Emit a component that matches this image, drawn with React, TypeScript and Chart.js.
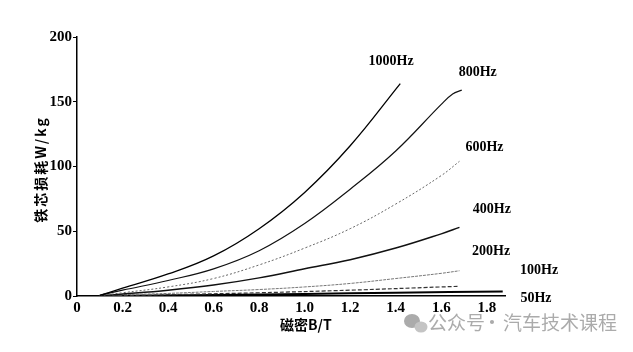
import React, { useEffect, useRef } from 'react';
import { Chart, registerables } from 'chart.js';

Chart.register(...registerables);

// Flux density B (T) and core loss (W/kg) for each frequency
const B_1000 = [0.1, 0.2, 0.4, 0.6, 0.8, 1.0, 1.2, 1.42];
const P_1000 = [0.5, 6, 17, 31, 52, 80, 116, 164];

const B_800 = [0.1, 0.2, 0.4, 0.6, 0.8, 1.0, 1.2, 1.4, 1.6, 1.65, 1.69];
const P_800 = [0.5, 4.5, 12, 21, 35, 56, 82.5, 112, 148, 156, 159];

const B_600 = [0.1, 0.2, 0.4, 0.6, 0.8, 1.0, 1.2, 1.4, 1.6, 1.68];
const P_600 = [0.3, 2.5, 7, 13.5, 24, 37, 52, 71, 93, 104];

const B_400 = [0.1, 0.2, 0.4, 0.6, 0.8, 1.0, 1.2, 1.4, 1.6, 1.68];
const P_400 = [0.2, 1.5, 4.5, 8.5, 14, 21, 28, 37, 48, 53];

const B_200 = [0.1, 0.2, 0.4, 0.6, 0.8, 1.0, 1.2, 1.4, 1.6, 1.68];
const P_200 = [0.1, 1, 2, 3.5, 5, 7, 9.7, 13.5, 17.5, 19.5];

const B_100 = [0.1, 0.4, 0.8, 1.2, 1.6, 1.68];
const P_100 = [0, 1, 2.5, 4.5, 7, 7.5];

const B_50 = [0.1, 0.6, 1.0, 1.4, 1.87];
const P_50 = [0, 0.8, 1.6, 2.6, 3.5];

// Curve labels (text, and their anchor in data units)
const LABEL_TEXT = ['1000Hz', '800Hz', '600Hz', '400Hz', '200Hz', '100Hz', '50Hz'];
const LABEL_B = [1.38, 1.76, 1.79, 1.822, 1.819, 2.03, 2.016];
const LABEL_P = [181, 173, 114.6, 67, 34.8, 19.5, -1.6];

const X_TITLE = '磁密B/T';
const Y_TITLE = '铁芯损耗W/kg';
const WATERMARK_LEFT = '公众号';
const WATERMARK_RIGHT = '汽车技术课程';

const pts = (xs: number[], ys: number[]) => xs.map((x, i) => ({ x, y: ys[i] }));

const labelPlugin = {
  id: 'labels',
  afterDraw(chart: any) {
    const { ctx, scales } = chart;
    const xs = scales.x;
    const ys = scales.y;
    ctx.save();
    ctx.fillStyle = '#000';
    ctx.font = 'bold 14px "Liberation Serif", serif';
    ctx.textAlign = 'center';
    ctx.textBaseline = 'middle';
    LABEL_TEXT.forEach((t, i) => {
      ctx.fillText(t, xs.getPixelForValue(LABEL_B[i]), ys.getPixelForValue(LABEL_P[i]));
    });

    // axis titles
    const ca = chart.chartArea;
    ctx.font = 'bold 14px "Noto Sans CJK SC", sans-serif';
    ctx.fillText(X_TITLE, xs.getPixelForValue(1.005), 325);
    ctx.save();
    ctx.translate(41, (ca.top + ca.bottom) / 2 + 3);
    ctx.rotate(-Math.PI / 2);
    ctx.font = 'bold 14px "Noto Sans CJK SC", sans-serif';
    (ctx as any).letterSpacing = '2px';
    ctx.fillText(Y_TITLE, 0, 0);
    ctx.restore();

    // watermark
    ctx.fillStyle = '#ababab';
    ctx.beginPath();
    ctx.ellipse(412, 321, 8, 7, 0, 0, Math.PI * 2);
    ctx.fill();
    ctx.beginPath();
    ctx.fillStyle = '#c4c4c4';
    ctx.ellipse(421, 327, 6.5, 5.5, 0, 0, Math.PI * 2);
    ctx.fill();
    ctx.fillStyle = '#ababab';
    ctx.font = '19px "Noto Sans CJK SC", sans-serif';
    ctx.textAlign = 'left';
    ctx.fillText(WATERMARK_LEFT, 428, 323);
    ctx.textAlign = 'center';
    ctx.fillText('·', 492, 323);
    ctx.textAlign = 'left';
    ctx.fillText(WATERMARK_RIGHT, 503, 323);
    ctx.restore();
  },
};

export default function App() {
  const ref = useRef<HTMLCanvasElement | null>(null);
  useEffect(() => {
    if (!ref.current) return;
    const line = (xs: number[], ys: number[], color: string, width: number, dash: number[] = []) => ({
      data: pts(xs, ys),
      borderColor: color,
      borderWidth: width,
      borderDash: dash,
      pointRadius: 0,
      fill: false,
      tension: 0.4,
    });
    const chart = new Chart(ref.current, {
      type: 'line',
      data: {
        datasets: [
          line(B_1000, P_1000, '#000', 1.3),
          line(B_800, P_800, '#111', 1.2),
          line(B_600, P_600, '#666', 1, [2, 2]),
          line(B_400, P_400, '#111', 1.5),
          line(B_200, P_200, '#777', 1, [3, 1]),
          line(B_100, P_100, '#333', 1.2, [4, 2]),
          line(B_50, P_50, '#000', 2),
        ],
      },
      options: {
        animation: false,
        responsive: false,
        layout: { padding: { top: 37, right: 128, left: 0, bottom: 0 } },
        plugins: { legend: { display: false }, tooltip: { enabled: false } },
        scales: {
          x: {
            type: 'linear',
            min: 0,
            max: 1.88,
            grid: { display: false, drawTicks: false, tickLength: 0 },
            border: { display: true, color: '#000', width: 1.5 },
            ticks: {
              stepSize: 0.2,
              includeBounds: false,
              color: '#000',
              padding: 3,
              font: { family: '"Liberation Serif", serif', size: 15, weight: 'bold' },
              maxRotation: 0,
            },
            afterFit: (s: any) => {
              s.height = 56;
            },
          },
          y: {
            type: 'linear',
            min: 0,
            max: 200,
            grid: { display: true, drawOnChartArea: false, tickLength: 4, color: '#000' },
            border: { display: true, color: '#000', width: 1.5 },
            ticks: {
              stepSize: 50,
              color: '#000',
              padding: 1,
              font: { family: '"Liberation Serif", serif', size: 15, weight: 'bold' },
            },
            afterFit: (s: any) => {
              s.width = 77;
            },
          },
        },
      },
      plugins: [labelPlugin],
    });
    return () => chart.destroy();
  }, []);
  return (
    <div style={{ position: 'fixed', left: 0, top: 0, width: 633, height: 352, background: '#fff' }}>
      <canvas ref={ref} width={633} height={352} />
    </div>
  );
}
